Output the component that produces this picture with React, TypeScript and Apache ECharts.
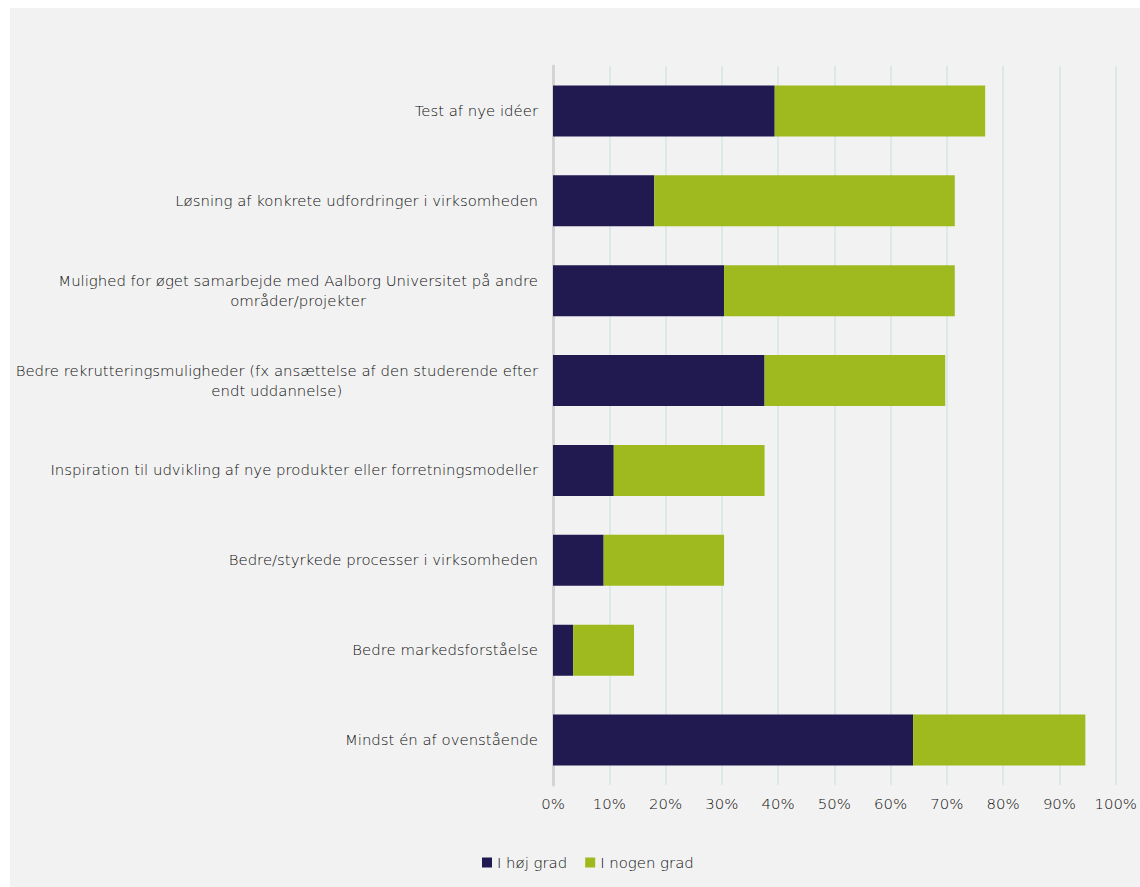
import React, { useEffect, useRef } from "react";
import * as echarts from "echarts";

const categories = [
  "Test af nye idéer",
  "Løsning af konkrete udfordringer i virksomheden",
  "Mulighed for øget samarbejde med Aalborg Universitet på andre\nområder/projekter",
  "Bedre rekrutteringsmuligheder (fx ansættelse af den studerende efter\nendt uddannelse)",
  "Inspiration til udvikling af nye produkter eller forretningsmodeller",
  "Bedre/styrkede processer i virksomheden",
  "Bedre markedsforståelse",
  "Mindst én af ovenstående",
];
const hojGrad = [39.4, 18.0, 30.4, 37.6, 10.8, 9.0, 3.6, 64.0];
const nogenGrad = [37.4, 53.4, 41.0, 32.1, 26.8, 21.4, 10.8, 30.6];
const seriesNames = ["I høj grad", "I nogen grad"];
const xTicks = [0, 10, 20, 30, 40, 50, 60, 70, 80, 90, 100];

const FONT = "DejaVu Sans";
const FS = 14.9;
const FW = 200;
const TC = "#0d0d0d";

export default function App() {
  const ref = useRef<HTMLDivElement>(null);
  useEffect(() => {
    if (!ref.current) return;
    const chart = echarts.init(ref.current, null, { renderer: "svg" });
    chart.setOption({
      animation: false,
      backgroundColor: "#f2f2f2",
      textStyle: { fontFamily: FONT },
      grid: { left: 543, right: 10.5, top: 58, bottom: 102, containLabel: false },
      legend: {
        left: 467,
        top: 842,
        itemWidth: 10,
        itemHeight: 10,
        itemGap: 18,
        icon: "rect",
        data: seriesNames,
        textStyle: { fontFamily: FONT, fontSize: FS, fontWeight: FW, color: TC },
      },
      xAxis: {
        type: "value",
        min: xTicks[0],
        max: xTicks[xTicks.length - 1],
        interval: 10,
        axisLine: { show: false },
        axisTick: { show: false },
        splitLine: { show: true, lineStyle: { color: "#dce9e8", width: 2 } },
        axisLabel: {
          formatter: (v: number) => `${v}%`,
          fontFamily: FONT,
          fontSize: FS,
          fontWeight: FW,
          color: TC,
          margin: 11,
        },
      },
      yAxis: {
        type: "category",
        inverse: true,
        data: categories,
        axisLine: { show: true, lineStyle: { color: "#d4d4d4", width: 3 } },
        axisTick: { show: false },
        axisLabel: {
          margin: 15,
          fontFamily: FONT,
          fontSize: FS,
          fontWeight: FW,
          color: TC,
          lineHeight: 20,
          formatter: (v: string) =>
            v
              .split("\n")
              .map((l) => `{c|${l}}`)
              .join("\n"),
          rich: {
            c: {
              align: "center",
              fontFamily: FONT,
              fontSize: FS,
              fontWeight: FW,
              color: TC,
              lineHeight: 20,
            },
          },
        },
      },
      series: [
        {
          name: seriesNames[0],
          type: "bar",
          stack: "total",
          data: hojGrad,
          barWidth: 51,
          itemStyle: { color: "#211a50" },
        },
        {
          name: seriesNames[1],
          type: "bar",
          stack: "total",
          data: nogenGrad,
          barWidth: 51,
          itemStyle: { color: "#9fba1f" },
        },
      ],
    });
    return () => chart.dispose();
  }, []);
  return (
    <div
      ref={ref}
      style={{ position: "fixed", left: 10, top: 8, width: 1130, height: 879 }}
    />
  );
}
